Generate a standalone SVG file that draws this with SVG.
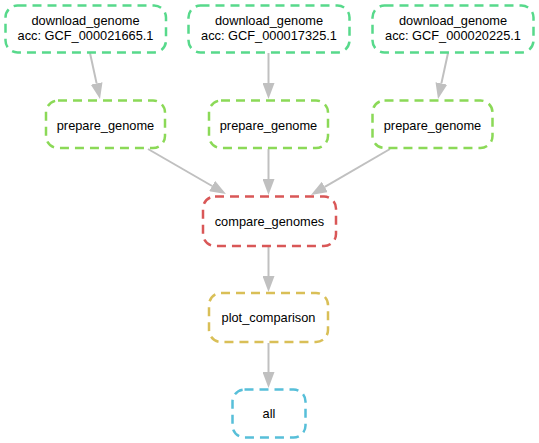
<svg xmlns="http://www.w3.org/2000/svg" width="539" height="443" viewBox="0 0 539 443">
<defs>
<style>
.box{fill:#ffffff;stroke-width:2.5;stroke-dasharray:9,6}
.t{font-family:"Liberation Sans",Arial,Helvetica,sans-serif;font-size:12.8px;fill:#000000;text-anchor:middle}
.e{stroke:#c0c0c0;stroke-width:2;fill:none}
</style>
<marker id="ah" viewBox="0 0 16 12" markerWidth="16" markerHeight="12" refX="0" refY="6" orient="auto" markerUnits="userSpaceOnUse">
<path d="M0,0 L16,6 L0,12 z" fill="#c0c0c0"/>
</marker>
</defs>
<rect width="539" height="443" fill="#ffffff"/>
<g id="edges">
<line class="e" x1="90" y1="53" x2="96.6" y2="83.4" marker-end="url(#ah)"/>
<line class="e" x1="268.5" y1="53" x2="268.5" y2="83" marker-end="url(#ah)"/>
<line class="e" x1="448" y1="53" x2="441.4" y2="83.4" marker-end="url(#ah)"/>
<line class="e" x1="148" y1="149" x2="212.1" y2="186" marker-end="url(#ah)"/>
<line class="e" x1="268.5" y1="149" x2="268.5" y2="179" marker-end="url(#ah)"/>
<line class="e" x1="390" y1="149" x2="324.8" y2="186.9" marker-end="url(#ah)"/>
<line class="e" x1="268.5" y1="247" x2="268.5" y2="276" marker-end="url(#ah)"/>
<line class="e" x1="268.5" y1="343" x2="268.5" y2="372" marker-end="url(#ah)"/>
</g>
<g id="download1">
<rect class="box" x="5.5" y="5.5" width="160.5" height="47" rx="12" stroke="#57d98b"/>
<text class="t" x="85.5" y="25">download_genome</text>
<text class="t" x="85.5" y="39.5">acc: GCF_000021665.1</text>
</g>
<g id="download2">
<rect class="box" x="188.5" y="5.5" width="161" height="47" rx="12" stroke="#57d98b"/>
<text class="t" x="269" y="25">download_genome</text>
<text class="t" x="269" y="39.5">acc: GCF_000017325.1</text>
</g>
<g id="download3">
<rect class="box" x="372.5" y="5.5" width="161" height="47" rx="12" stroke="#57d98b"/>
<text class="t" x="453" y="25">download_genome</text>
<text class="t" x="453" y="39.5">acc: GCF_000020225.1</text>
</g>
<g id="prepare1">
<rect class="box" x="46" y="100.5" width="119" height="47.5" rx="12" stroke="#8bd957"/>
<text class="t" x="105.5" y="129.5">prepare_genome</text>
</g>
<g id="prepare2">
<rect class="box" x="209" y="100.5" width="119" height="47.5" rx="12" stroke="#8bd957"/>
<text class="t" x="268.5" y="129.5">prepare_genome</text>
</g>
<g id="prepare3">
<rect class="box" x="372.5" y="100.5" width="120" height="47.5" rx="12" stroke="#8bd957"/>
<text class="t" x="432.5" y="129.5">prepare_genome</text>
</g>
<g id="compare">
<rect class="box" x="203" y="196.5" width="133" height="49.5" rx="12" stroke="#d95757"/>
<text class="t" x="269.5" y="225.5">compare_genomes</text>
</g>
<g id="plot">
<rect class="box" x="209" y="293" width="119" height="49" rx="12" stroke="#d9bf57"/>
<text class="t" x="268.5" y="322">plot_comparison</text>
</g>
<g id="all">
<rect class="box" x="232.5" y="389.5" width="73" height="48" rx="12" stroke="#57bfd9"/>
<text class="t" x="269" y="418">all</text>
</g>
</svg>
